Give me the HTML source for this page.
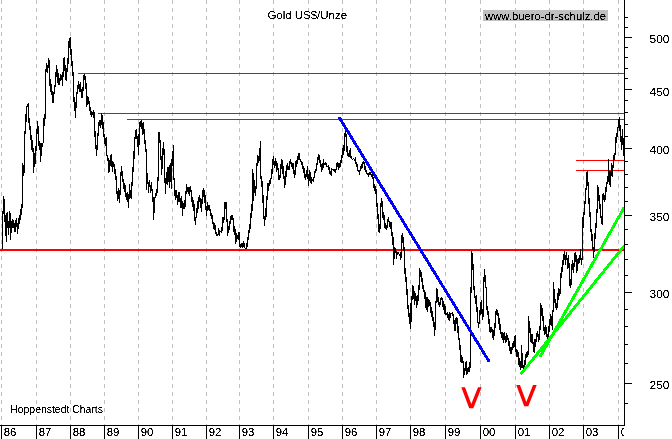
<!DOCTYPE html>
<html><head><meta charset="utf-8"><title>Gold US$/Unze</title>
<style>html,body{margin:0;padding:0;background:#fff;overflow:hidden}svg{display:block}text{font-family:"Liberation Sans",sans-serif;fill:#000}</style></head><body>
<svg width="672" height="439" viewBox="0 0 672 439">
<rect width="672" height="439" fill="#fff"/>
<defs><filter id="t" x="0" y="0" width="672" height="439" filterUnits="userSpaceOnUse" color-interpolation-filters="sRGB"><feComponentTransfer><feFuncA type="linear" slope="5" intercept="-1.7"/></feComponentTransfer></filter><clipPath id="cx"><rect x="0" y="420" width="624" height="19"/></clipPath></defs>
<g stroke="#c0c0c0" stroke-width="1" stroke-dasharray="4 4" shape-rendering="crispEdges">
<line x1="1.5" y1="0" x2="1.5" y2="425"/>
<line x1="36.5" y1="0" x2="36.5" y2="425"/>
<line x1="70.5" y1="0" x2="70.5" y2="425"/>
<line x1="104.5" y1="0" x2="104.5" y2="425"/>
<line x1="138.5" y1="0" x2="138.5" y2="425"/>
<line x1="172.5" y1="0" x2="172.5" y2="425"/>
<line x1="206.5" y1="0" x2="206.5" y2="425"/>
<line x1="239.5" y1="0" x2="239.5" y2="425"/>
<line x1="273.5" y1="0" x2="273.5" y2="425"/>
<line x1="308.5" y1="0" x2="308.5" y2="425"/>
<line x1="342.5" y1="0" x2="342.5" y2="425"/>
<line x1="376.5" y1="0" x2="376.5" y2="425"/>
<line x1="410.5" y1="0" x2="410.5" y2="425"/>
<line x1="445.5" y1="0" x2="445.5" y2="425"/>
<line x1="480.5" y1="0" x2="480.5" y2="425"/>
<line x1="515.5" y1="0" x2="515.5" y2="425"/>
<line x1="549.5" y1="0" x2="549.5" y2="425"/>
<line x1="583.5" y1="0" x2="583.5" y2="425"/>
<line x1="618.5" y1="0" x2="618.5" y2="425"/>
</g>
<rect x="483" y="10" width="125" height="11" fill="#c0c0c0"/>
<g stroke="#ff0000" stroke-width="1" shape-rendering="crispEdges">
<line x1="78" y1="73.5" x2="624" y2="73.5"/>
<line x1="98" y1="113.5" x2="624" y2="113.5"/>
<line x1="127" y1="119.5" x2="624" y2="119.5"/>
<line x1="576" y1="160.5" x2="624" y2="160.5"/>
<line x1="576" y1="170.5" x2="624" y2="170.5"/>
</g>
<rect x="0" y="249" width="624" height="2" fill="#ff0000"/>
<path fill="#000" shape-rendering="crispEdges" d="M2 211h1v38h-1zM3 196h1v18h-1zM4 199h1v23h-1zM5 215h1v21h-1zM6 213h1v29h-1zM7 212h1v16h-1zM8 221h1v14h-1zM9 211h1v17h-1zM10 213h1v27h-1zM11 221h1v12h-1zM12 219h1v9h-1zM13 220h1v8h-1zM14 223h1v9h-1zM15 220h1v12h-1zM16 218h1v9h-1zM17 223h1v11h-1zM18 218h1v11h-1zM19 215h1v9h-1zM20 209h1v11h-1zM21 204h1v11h-1zM22 163h1v45h-1zM23 165h1v11h-1zM24 131h1v42h-1zM25 114h1v20h-1zM26 106h1v16h-1zM27 104h1v3h-1zM28 103h1v20h-1zM29 118h1v12h-1zM30 126h1v14h-1zM31 135h1v15h-1zM32 140h1v12h-1zM33 148h1v25h-1zM34 153h1v14h-1zM35 146h1v18h-1zM36 129h1v22h-1zM37 121h1v13h-1zM38 126h1v20h-1zM39 141h1v9h-1zM40 143h1v19h-1zM41 143h1v13h-1zM42 143h1v4h-1zM43 118h1v25h-1zM44 114h1v12h-1zM45 69h1v50h-1zM46 63h1v9h-1zM47 65h1v8h-1zM48 58h1v10h-1zM49 60h1v26h-1zM50 79h1v13h-1zM51 84h1v11h-1zM52 91h1v12h-1zM53 92h1v11h-1zM54 85h1v9h-1zM55 72h1v15h-1zM56 65h1v12h-1zM57 69h1v14h-1zM58 73h1v12h-1zM59 78h1v7h-1zM60 74h1v7h-1zM61 75h1v5h-1zM62 72h1v14h-1zM63 58h1v19h-1zM64 57h1v14h-1zM65 65h1v15h-1zM66 68h1v13h-1zM67 58h1v14h-1zM68 41h1v23h-1zM69 38h1v10h-1zM70 37h1v18h-1zM71 49h1v17h-1zM72 61h1v15h-1zM73 72h1v30h-1zM74 97h1v14h-1zM75 102h1v16h-1zM76 92h1v16h-1zM77 85h1v9h-1zM78 81h1v8h-1zM79 84h1v8h-1zM80 82h1v10h-1zM81 89h1v9h-1zM82 87h1v11h-1zM83 75h1v16h-1zM84 74h1v6h-1zM85 76h1v13h-1zM86 83h1v24h-1zM87 96h1v9h-1zM88 97h1v7h-1zM89 101h1v10h-1zM90 107h1v8h-1zM91 111h1v6h-1zM92 112h1v3h-1zM93 110h1v8h-1zM94 112h1v25h-1zM95 131h1v18h-1zM96 145h1v11h-1zM97 133h1v17h-1zM98 122h1v14h-1zM99 120h1v6h-1zM100 120h1v8h-1zM101 113h1v12h-1zM102 115h1v14h-1zM103 122h1v15h-1zM104 134h1v10h-1zM105 138h1v8h-1zM106 137h1v19h-1zM107 155h1v6h-1zM108 158h1v15h-1zM109 160h1v12h-1zM110 155h1v11h-1zM111 154h1v13h-1zM112 161h1v11h-1zM113 162h1v5h-1zM114 164h1v10h-1zM115 169h1v11h-1zM116 176h1v18h-1zM117 191h1v10h-1zM118 188h1v11h-1zM119 190h1v13h-1zM120 172h1v23h-1zM121 166h1v10h-1zM122 171h1v11h-1zM123 179h1v10h-1zM124 183h1v9h-1zM125 185h1v12h-1zM126 193h1v7h-1zM127 192h1v10h-1zM128 194h1v14h-1zM129 184h1v15h-1zM130 190h1v8h-1zM131 182h1v17h-1zM132 167h1v19h-1zM133 151h1v21h-1zM134 137h1v22h-1zM135 130h1v9h-1zM136 129h1v10h-1zM137 136h1v11h-1zM138 134h1v21h-1zM139 122h1v23h-1zM140 121h1v6h-1zM141 120h1v9h-1zM142 123h1v12h-1zM143 122h1v12h-1zM144 129h1v15h-1zM145 140h1v12h-1zM146 149h1v41h-1zM147 173h1v11h-1zM148 182h1v11h-1zM149 180h1v7h-1zM150 185h1v8h-1zM151 182h1v9h-1zM152 189h1v13h-1zM153 197h1v23h-1zM154 197h1v16h-1zM155 193h1v5h-1zM156 189h1v7h-1zM157 177h1v16h-1zM158 132h1v49h-1zM159 132h1v11h-1zM160 140h1v20h-1zM161 156h1v19h-1zM162 148h1v21h-1zM163 142h1v13h-1zM164 149h1v34h-1zM165 178h1v16h-1zM166 172h1v12h-1zM167 167h1v18h-1zM168 167h1v15h-1zM169 165h1v23h-1zM170 163h1v19h-1zM171 159h1v30h-1zM172 151h1v15h-1zM173 145h1v35h-1zM174 178h1v18h-1zM175 190h1v10h-1zM176 190h1v8h-1zM177 195h1v10h-1zM178 192h1v10h-1zM179 192h1v10h-1zM180 198h1v10h-1zM181 196h1v12h-1zM182 201h1v15h-1zM183 203h1v6h-1zM184 200h1v9h-1zM185 191h1v16h-1zM186 184h1v10h-1zM187 187h1v5h-1zM188 187h1v7h-1zM189 187h1v9h-1zM190 186h1v6h-1zM191 190h1v12h-1zM192 197h1v10h-1zM193 200h1v11h-1zM194 204h1v17h-1zM195 217h1v8h-1zM196 208h1v10h-1zM197 201h1v12h-1zM198 197h1v12h-1zM199 195h1v7h-1zM200 198h1v10h-1zM201 199h1v13h-1zM202 190h1v14h-1zM203 188h1v9h-1zM204 190h1v13h-1zM205 195h1v15h-1zM206 206h1v10h-1zM207 202h1v9h-1zM208 205h1v5h-1zM209 205h1v6h-1zM210 209h1v7h-1zM211 213h1v6h-1zM212 215h1v9h-1zM213 222h1v7h-1zM214 223h1v7h-1zM215 225h1v9h-1zM216 232h1v4h-1zM217 234h1v2h-1zM218 228h1v7h-1zM219 230h1v6h-1zM220 231h1v1h-1zM221 227h1v6h-1zM222 217h1v14h-1zM223 217h1v6h-1zM224 202h1v18h-1zM225 202h1v7h-1zM226 202h1v20h-1zM227 219h1v17h-1zM228 226h1v7h-1zM229 221h1v9h-1zM230 216h1v8h-1zM231 215h1v5h-1zM232 215h1v5h-1zM233 218h1v14h-1zM234 226h1v9h-1zM235 229h1v15h-1zM236 233h1v9h-1zM237 235h1v4h-1zM238 232h1v8h-1zM239 232h1v15h-1zM240 244h1v4h-1zM241 243h1v4h-1zM242 243h1v5h-1zM243 241h1v6h-1zM244 243h1v5h-1zM245 248h1v1h-1zM246 243h1v6h-1zM247 237h1v10h-1zM248 230h1v10h-1zM249 224h1v9h-1zM250 213h1v16h-1zM251 204h1v14h-1zM252 169h1v42h-1zM253 173h1v28h-1zM254 180h1v13h-1zM255 186h1v10h-1zM256 163h1v26h-1zM257 155h1v11h-1zM258 156h1v7h-1zM259 148h1v13h-1zM260 141h1v38h-1zM261 176h1v11h-1zM262 181h1v22h-1zM263 195h1v24h-1zM264 216h1v10h-1zM265 208h1v12h-1zM266 196h1v21h-1zM267 183h1v17h-1zM268 183h1v8h-1zM269 180h1v6h-1zM270 178h1v6h-1zM271 169h1v10h-1zM272 159h1v15h-1zM273 156h1v9h-1zM274 161h1v7h-1zM275 158h1v8h-1zM276 161h1v11h-1zM277 163h1v7h-1zM278 168h1v12h-1zM279 175h1v5h-1zM280 164h1v14h-1zM281 159h1v10h-1zM282 160h1v14h-1zM283 166h1v13h-1zM284 176h1v12h-1zM285 171h1v14h-1zM286 165h1v12h-1zM287 163h1v7h-1zM288 166h1v4h-1zM289 161h1v9h-1zM290 159h1v5h-1zM291 162h1v5h-1zM292 163h1v6h-1zM293 163h1v11h-1zM294 170h1v8h-1zM295 161h1v14h-1zM296 160h1v7h-1zM297 156h1v8h-1zM298 153h1v7h-1zM299 153h1v7h-1zM300 159h1v3h-1zM301 161h1v4h-1zM302 162h1v7h-1zM303 166h1v7h-1zM304 168h1v10h-1zM305 174h1v6h-1zM306 170h1v7h-1zM307 166h1v13h-1zM308 174h1v12h-1zM309 170h1v11h-1zM310 172h1v11h-1zM311 177h1v7h-1zM312 179h1v2h-1zM313 177h1v5h-1zM314 171h1v7h-1zM315 169h1v4h-1zM316 163h1v8h-1zM317 157h1v8h-1zM318 154h1v6h-1zM319 155h1v8h-1zM320 160h1v7h-1zM321 164h1v8h-1zM322 163h1v7h-1zM323 159h1v9h-1zM324 163h1v2h-1zM325 162h1v3h-1zM326 163h1v4h-1zM327 166h1v1h-1zM328 165h1v5h-1zM329 167h1v7h-1zM330 171h1v4h-1zM331 168h1v8h-1zM332 169h1v1h-1zM333 169h1v2h-1zM334 169h1v3h-1zM335 169h1v4h-1zM336 163h1v7h-1zM337 162h1v5h-1zM338 163h1v7h-1zM339 163h1v5h-1zM340 160h1v7h-1zM341 155h1v8h-1zM342 148h1v10h-1zM343 145h1v10h-1zM344 133h1v18h-1zM345 130h1v7h-1zM346 134h1v18h-1zM347 146h1v10h-1zM348 153h1v4h-1zM349 150h1v7h-1zM350 148h1v10h-1zM351 156h1v3h-1zM352 159h1v1h-1zM353 158h1v1h-1zM354 159h1v2h-1zM355 157h1v7h-1zM356 162h1v5h-1zM357 164h1v7h-1zM358 170h1v2h-1zM359 170h1v5h-1zM360 166h1v5h-1zM361 164h1v5h-1zM362 162h1v6h-1zM363 161h1v3h-1zM364 162h1v8h-1zM365 166h1v6h-1zM366 170h1v4h-1zM367 173h1v2h-1zM368 173h1v4h-1zM369 172h1v3h-1zM370 172h1v3h-1zM371 174h1v3h-1zM372 174h1v5h-1zM373 177h1v11h-1zM374 184h1v7h-1zM375 186h1v8h-1zM376 189h1v18h-1zM377 203h1v16h-1zM378 214h1v18h-1zM379 224h1v9h-1zM380 203h1v26h-1zM381 198h1v9h-1zM382 201h1v17h-1zM383 212h1v8h-1zM384 215h1v13h-1zM385 223h1v6h-1zM386 225h1v5h-1zM387 219h1v9h-1zM388 217h1v5h-1zM389 221h1v6h-1zM390 222h1v7h-1zM391 222h1v14h-1zM392 232h1v13h-1zM393 237h1v28h-1zM394 247h1v12h-1zM395 248h1v5h-1zM396 251h1v8h-1zM397 252h1v3h-1zM398 252h1v2h-1zM399 254h1v2h-1zM400 252h1v8h-1zM401 235h1v23h-1zM402 233h1v10h-1zM403 237h1v14h-1zM404 247h1v27h-1zM405 268h1v14h-1zM406 277h1v18h-1zM407 289h1v20h-1zM408 305h1v12h-1zM409 313h1v11h-1zM410 303h1v26h-1zM411 296h1v26h-1zM412 285h1v15h-1zM413 286h1v13h-1zM414 291h1v14h-1zM415 293h1v8h-1zM416 296h1v12h-1zM417 295h1v10h-1zM418 285h1v16h-1zM419 268h1v22h-1zM420 270h1v7h-1zM421 272h1v10h-1zM422 278h1v11h-1zM423 285h1v7h-1zM424 290h1v9h-1zM425 292h1v16h-1zM426 297h1v13h-1zM427 297h1v15h-1zM428 299h1v8h-1zM429 300h1v6h-1zM430 302h1v11h-1zM431 307h1v10h-1zM432 311h1v10h-1zM433 317h1v10h-1zM434 322h1v14h-1zM435 301h1v29h-1zM436 288h1v15h-1zM437 289h1v13h-1zM438 297h1v8h-1zM439 302h1v5h-1zM440 298h1v7h-1zM441 297h1v3h-1zM442 298h1v9h-1zM443 301h1v9h-1zM444 304h1v10h-1zM445 306h1v9h-1zM446 313h1v2h-1zM447 312h1v6h-1zM448 314h1v6h-1zM449 312h1v9h-1zM450 313h1v5h-1zM451 313h1v1h-1zM452 312h1v4h-1zM453 314h1v10h-1zM454 320h1v11h-1zM455 318h1v13h-1zM456 317h1v7h-1zM457 318h1v15h-1zM458 326h1v14h-1zM459 338h1v12h-1zM460 345h1v17h-1zM461 355h1v8h-1zM462 357h1v6h-1zM463 361h1v17h-1zM464 368h1v7h-1zM465 362h1v9h-1zM466 361h1v14h-1zM467 368h1v6h-1zM468 367h1v5h-1zM469 362h1v10h-1zM470 287h1v81h-1zM471 251h1v42h-1zM472 253h1v17h-1zM473 264h1v26h-1zM474 286h1v12h-1zM475 296h1v8h-1zM476 295h1v17h-1zM477 307h1v16h-1zM478 322h1v6h-1zM479 310h1v14h-1zM480 302h1v13h-1zM481 300h1v14h-1zM482 309h1v11h-1zM483 277h1v40h-1zM484 269h1v13h-1zM485 275h1v13h-1zM486 287h1v23h-1zM487 306h1v9h-1zM488 311h1v13h-1zM489 319h1v13h-1zM490 327h1v6h-1zM491 327h1v5h-1zM492 329h1v9h-1zM493 330h1v10h-1zM494 323h1v13h-1zM495 311h1v17h-1zM496 309h1v6h-1zM497 310h1v6h-1zM498 313h1v11h-1zM499 318h1v12h-1zM500 324h1v10h-1zM501 332h1v6h-1zM502 332h1v8h-1zM503 333h1v10h-1zM504 332h1v8h-1zM505 336h1v7h-1zM506 333h1v9h-1zM507 335h1v5h-1zM508 338h1v8h-1zM509 341h1v10h-1zM510 347h1v7h-1zM511 347h1v7h-1zM512 343h1v7h-1zM513 341h1v7h-1zM514 336h1v11h-1zM515 335h1v17h-1zM516 349h1v8h-1zM517 350h1v7h-1zM518 352h1v13h-1zM519 358h1v9h-1zM520 361h1v9h-1zM521 345h1v23h-1zM522 353h1v15h-1zM523 365h1v4h-1zM524 360h1v8h-1zM525 354h1v11h-1zM526 352h1v6h-1zM527 351h1v6h-1zM528 316h1v39h-1zM529 321h1v12h-1zM530 328h1v14h-1zM531 334h1v9h-1zM532 334h1v10h-1zM533 342h1v10h-1zM534 339h1v14h-1zM535 339h1v8h-1zM536 333h1v9h-1zM537 331h1v6h-1zM538 334h1v8h-1zM539 326h1v14h-1zM540 303h1v27h-1zM541 305h1v11h-1zM542 308h1v13h-1zM543 316h1v15h-1zM544 327h1v8h-1zM545 325h1v9h-1zM546 327h1v10h-1zM547 334h1v6h-1zM548 326h1v11h-1zM549 319h1v13h-1zM550 314h1v11h-1zM551 316h1v10h-1zM552 310h1v20h-1zM553 282h1v30h-1zM554 289h1v14h-1zM555 299h1v9h-1zM556 303h1v7h-1zM557 293h1v15h-1zM558 288h1v12h-1zM559 289h1v7h-1zM560 273h1v21h-1zM561 267h1v11h-1zM562 260h1v12h-1zM563 254h1v11h-1zM564 251h1v9h-1zM565 255h1v10h-1zM566 252h1v8h-1zM567 258h1v11h-1zM568 255h1v13h-1zM569 263h1v23h-1zM570 279h1v9h-1zM571 264h1v21h-1zM572 260h1v10h-1zM573 263h1v10h-1zM574 253h1v14h-1zM575 252h1v10h-1zM576 255h1v18h-1zM577 259h1v12h-1zM578 258h1v6h-1zM579 255h1v8h-1zM580 249h1v11h-1zM581 258h1v7h-1zM582 217h1v43h-1zM583 212h1v16h-1zM584 201h1v14h-1zM585 188h1v16h-1zM586 172h1v18h-1zM587 171h1v15h-1zM588 182h1v22h-1zM589 198h1v19h-1zM590 212h1v20h-1zM591 229h1v12h-1zM592 234h1v16h-1zM593 247h1v11h-1zM594 233h1v19h-1zM595 223h1v16h-1zM596 209h1v19h-1zM597 185h1v28h-1zM598 187h1v14h-1zM599 195h1v14h-1zM600 204h1v14h-1zM601 216h1v8h-1zM602 194h1v31h-1zM603 193h1v7h-1zM604 195h1v7h-1zM605 187h1v13h-1zM606 182h1v10h-1zM607 176h1v8h-1zM608 159h1v23h-1zM609 171h1v14h-1zM610 171h1v16h-1zM611 163h1v13h-1zM612 165h1v12h-1zM613 155h1v13h-1zM614 153h1v7h-1zM615 137h1v18h-1zM616 133h1v10h-1zM617 127h1v10h-1zM618 119h1v9h-1zM619 117h1v14h-1zM620 125h1v17h-1zM621 136h1v14h-1zM622 129h1v16h-1zM623 138h1v18h-1zM624 137h1v25h-1z"/>
<line x1="339.7" y1="118.3" x2="488.8" y2="361" stroke="#0000ff" stroke-width="2.9" stroke-linecap="round" shape-rendering="crispEdges"/>
<line x1="520.8" y1="374.2" x2="624.3" y2="245.8" stroke="#00ff00" stroke-width="2.9" stroke-linecap="butt" shape-rendering="crispEdges"/>
<line x1="540" y1="357" x2="624.3" y2="207.2" stroke="#00ff00" stroke-width="2.9" stroke-linecap="butt" shape-rendering="crispEdges"/>
<polygon points="461.3,387.2 465,387.2 471.3,404 478,387.2 481.7,387.2 473.3,408.3 469.2,408.3" fill="#ff0000"/>
<polygon points="516.3,385 520,385 526.3,402 533,385 536.7,385 528.3,406.3 524.2,406.3" fill="#ff0000"/>
<g fill="#000" shape-rendering="crispEdges">
<rect x="624" y="0" width="1" height="426"/>
<rect x="0" y="425" width="625" height="1"/>
<rect x="1.0" y="425" width="1" height="14"/>
<rect x="36.0" y="425" width="1" height="14"/>
<rect x="70.0" y="425" width="1" height="14"/>
<rect x="104.0" y="425" width="1" height="14"/>
<rect x="138.0" y="425" width="1" height="14"/>
<rect x="172.0" y="425" width="1" height="14"/>
<rect x="206.0" y="425" width="1" height="14"/>
<rect x="239.0" y="425" width="1" height="14"/>
<rect x="273.0" y="425" width="1" height="14"/>
<rect x="308.0" y="425" width="1" height="14"/>
<rect x="342.0" y="425" width="1" height="14"/>
<rect x="376.0" y="425" width="1" height="14"/>
<rect x="410.0" y="425" width="1" height="14"/>
<rect x="445.0" y="425" width="1" height="14"/>
<rect x="480.0" y="425" width="1" height="14"/>
<rect x="515.0" y="425" width="1" height="14"/>
<rect x="549.0" y="425" width="1" height="14"/>
<rect x="583.0" y="425" width="1" height="14"/>
<rect x="618.0" y="425" width="1" height="14"/>
<rect x="624" y="403" width="4" height="1"/>
<rect x="624" y="383" width="8" height="1"/>
<rect x="624" y="363" width="4" height="1"/>
<rect x="624" y="344" width="4" height="1"/>
<rect x="624" y="326" width="4" height="1"/>
<rect x="624" y="309" width="4" height="1"/>
<rect x="624" y="292" width="8" height="1"/>
<rect x="624" y="275" width="4" height="1"/>
<rect x="624" y="259" width="4" height="1"/>
<rect x="624" y="244" width="4" height="1"/>
<rect x="624" y="229" width="4" height="1"/>
<rect x="624" y="215" width="8" height="1"/>
<rect x="624" y="201" width="4" height="1"/>
<rect x="624" y="187" width="4" height="1"/>
<rect x="624" y="174" width="4" height="1"/>
<rect x="624" y="161" width="4" height="1"/>
<rect x="624" y="148" width="8" height="1"/>
<rect x="624" y="136" width="4" height="1"/>
<rect x="624" y="124" width="4" height="1"/>
<rect x="624" y="112" width="4" height="1"/>
<rect x="624" y="100" width="4" height="1"/>
<rect x="624" y="89" width="8" height="1"/>
<rect x="624" y="78" width="4" height="1"/>
<rect x="624" y="68" width="4" height="1"/>
<rect x="624" y="57" width="4" height="1"/>
<rect x="624" y="47" width="4" height="1"/>
<rect x="624" y="37" width="8" height="1"/>
<rect x="624" y="27" width="4" height="1"/>
<rect x="624" y="17" width="4" height="1"/>
</g>
<g filter="url(#t)">
<text x="669.5" y="42.9" font-size="11" text-anchor="end" textLength="20" lengthAdjust="spacingAndGlyphs">500</text>
<text x="669.5" y="95.5" font-size="11" text-anchor="end" textLength="20" lengthAdjust="spacingAndGlyphs">450</text>
<text x="669.5" y="154.2" font-size="11" text-anchor="end" textLength="20" lengthAdjust="spacingAndGlyphs">400</text>
<text x="669.5" y="220.9" font-size="11" text-anchor="end" textLength="20" lengthAdjust="spacingAndGlyphs">350</text>
<text x="669.5" y="297.8" font-size="11" text-anchor="end" textLength="20" lengthAdjust="spacingAndGlyphs">300</text>
<text x="669.5" y="388.8" font-size="11" text-anchor="end" textLength="20" lengthAdjust="spacingAndGlyphs">250</text>
<g clip-path="url(#cx)">
<text x="3.7" y="436.3" font-size="11.5" textLength="12.7" lengthAdjust="spacingAndGlyphs">86</text>
<text x="38.7" y="436.3" font-size="11.5" textLength="12.7" lengthAdjust="spacingAndGlyphs">87</text>
<text x="72.7" y="436.3" font-size="11.5" textLength="12.7" lengthAdjust="spacingAndGlyphs">88</text>
<text x="106.7" y="436.3" font-size="11.5" textLength="12.7" lengthAdjust="spacingAndGlyphs">89</text>
<text x="140.7" y="436.3" font-size="11.5" textLength="12.7" lengthAdjust="spacingAndGlyphs">90</text>
<text x="174.7" y="436.3" font-size="11.5" textLength="12.7" lengthAdjust="spacingAndGlyphs">91</text>
<text x="208.7" y="436.3" font-size="11.5" textLength="12.7" lengthAdjust="spacingAndGlyphs">92</text>
<text x="241.7" y="436.3" font-size="11.5" textLength="12.7" lengthAdjust="spacingAndGlyphs">93</text>
<text x="275.7" y="436.3" font-size="11.5" textLength="12.7" lengthAdjust="spacingAndGlyphs">94</text>
<text x="310.7" y="436.3" font-size="11.5" textLength="12.7" lengthAdjust="spacingAndGlyphs">95</text>
<text x="344.7" y="436.3" font-size="11.5" textLength="12.7" lengthAdjust="spacingAndGlyphs">96</text>
<text x="378.7" y="436.3" font-size="11.5" textLength="12.7" lengthAdjust="spacingAndGlyphs">97</text>
<text x="412.7" y="436.3" font-size="11.5" textLength="12.7" lengthAdjust="spacingAndGlyphs">98</text>
<text x="447.7" y="436.3" font-size="11.5" textLength="12.7" lengthAdjust="spacingAndGlyphs">99</text>
<text x="482.7" y="436.3" font-size="11.5" textLength="12.7" lengthAdjust="spacingAndGlyphs">00</text>
<text x="517.7" y="436.3" font-size="11.5" textLength="12.7" lengthAdjust="spacingAndGlyphs">01</text>
<text x="551.7" y="436.3" font-size="11.5" textLength="12.7" lengthAdjust="spacingAndGlyphs">02</text>
<text x="585.7" y="436.3" font-size="11.5" textLength="12.7" lengthAdjust="spacingAndGlyphs">03</text>
<text x="620.7" y="436.3" font-size="11.5" textLength="12.7" lengthAdjust="spacingAndGlyphs">04</text>
</g>
<text x="267.5" y="18.7" font-size="11.5" textLength="79.5" lengthAdjust="spacingAndGlyphs">Gold US$/Unze</text>
<text x="485" y="19.7" font-size="11.5" textLength="121" lengthAdjust="spacingAndGlyphs">www.buero-dr-schulz.de</text>
<text x="10.2" y="413" font-size="11" textLength="92.8" lengthAdjust="spacingAndGlyphs">Hoppenstedt Charts</text>
</g>
</svg></body></html>
